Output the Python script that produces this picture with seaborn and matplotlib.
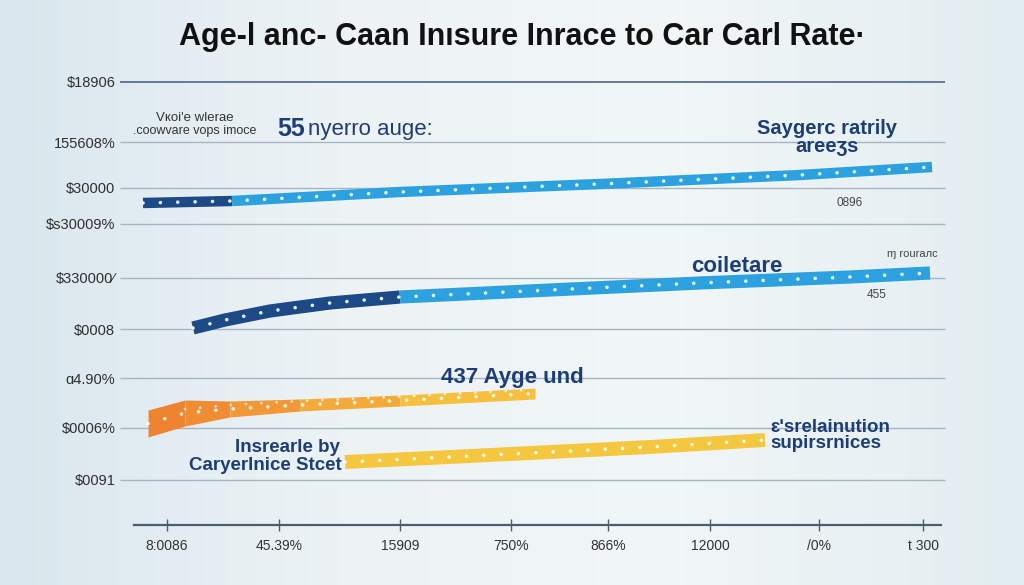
import numpy as np
import matplotlib.pyplot as plt
import seaborn as sns
from matplotlib.colors import LinearSegmentedColormap

sns.set_theme(style='white')
plt.rcParams['font.family'] = ['Liberation Sans', 'DejaVu Sans']

titulo = 'Age-l anc- Caan Inısure Inrace to Car Carl Rate·'

# eje y (lineas de la cuadricula)
y_valores = [886, 766, 674, 602, 494, 392, 294, 194, 90]
y_etiquetas = ['$18906', '155608%', '$30000', '$s30009%', '$330000⁄',
               '$0008', 'ɑ4.90%', '$0006%', '$0091']

# eje x
x_valores = [16.7, 27.9, 40.0, 51.1, 60.8, 71.0, 81.9, 92.3]
x_etiquetas = ['8:0086', '45.39%', '15909', '750%', '866%', '12000', '/0%', 't 300']

# banda superior
sup_oscuro_x = [14.3, 23.2]
sup_oscuro_y = [644, 648]
sup_claro_x = [23.2, 40, 60, 80, 93.2]
sup_claro_y = [648, 666, 682, 700, 716]

# banda media
med_oscuro_x = [19.3, 22.5, 27, 33, 40]
med_oscuro_y = [394, 410, 428, 444, 456]
med_claro_x = [40, 55, 70, 85, 93]
med_claro_y = [456, 470, 484, 496, 504]

# banda naranja (borde superior e inferior)
nar_x = [14.8, 18.5, 23, 30, 40, 53.5]
nar_sup = [230, 250, 248, 252, 260, 274]
nar_inf = [176, 198, 216, 228, 238, 252]
nar_colores = ['#ee8430', '#f08c33', '#f29836', '#f4aa39', '#f6bf3d']

# banda amarilla
ama_x = [34.5, 45, 55, 65, 76.5]
ama_y = [126, 136, 146, 156, 170]

azul_oscuro = '#1b4a86'
azul_claro = '#2ba2df'
azul_texto = '#1c3e78'

fig = plt.figure(figsize=(10.24, 5.85), dpi=100)
ax = fig.add_axes([0, 0, 1, 1])
ax.set_xlim(0, 102.4)
ax.set_ylim(-120, 1050)

# fondo degradado
fondo = LinearSegmentedColormap.from_list('fondo', ['#d9e7ee', '#edf3f5', '#f1f6f7', '#e2edf1'])
grad = np.linspace(0, 1, 256).reshape(1, -1)
ax.imshow(grad, cmap=fondo, extent=[0, 102.4, -120, 1050], aspect='auto', zorder=0)

# cuadricula
for i, v in enumerate(y_valores):
    col = '#4d6681' if i == 0 else '#a7b5c2'
    ax.hlines(v, 12.0, 94.5, color=col, linewidth=1.2 if i == 0 else 1.0, zorder=1)

# bandas azules
sns.lineplot(x=sup_oscuro_x, y=sup_oscuro_y, color=azul_oscuro, linewidth=7.5,
             solid_capstyle='butt', sort=False, ax=ax, zorder=3)
sns.lineplot(x=sup_claro_x, y=sup_claro_y, color=azul_claro, linewidth=7.5,
             solid_capstyle='butt', sort=False, ax=ax, zorder=3)
sns.lineplot(x=med_oscuro_x, y=med_oscuro_y, color=azul_oscuro, linewidth=9.5,
             solid_capstyle='butt', solid_joinstyle='round', sort=False, ax=ax, zorder=3)
sns.lineplot(x=med_claro_x, y=med_claro_y, color=azul_claro, linewidth=9.5,
             solid_capstyle='butt', sort=False, ax=ax, zorder=3)

# banda naranja con degradado
for i in range(len(nar_x) - 1):
    ax.fill_between(nar_x[i:i + 2], nar_inf[i:i + 2], nar_sup[i:i + 2],
                    color=nar_colores[i], linewidth=0, zorder=3)
nar_medio = [(a + b) / 2 for a, b in zip(nar_sup, nar_inf)]

# banda amarilla
sns.lineplot(x=ama_x, y=ama_y, color='#f5c73e', linewidth=10,
             solid_capstyle='butt', sort=False, ax=ax, zorder=3)

# puntos blancos sobre las bandas
puntos = dict(color='white', linewidth=2.6, linestyle=(0, (0.01, 4.8)),
              dash_capstyle='round', sort=False, ax=ax, zorder=4, alpha=0.9)
sns.lineplot(x=sup_oscuro_x + sup_claro_x[1:], y=sup_oscuro_y + sup_claro_y[1:], **puntos)
sns.lineplot(x=med_oscuro_x + med_claro_x[1:], y=med_oscuro_y + med_claro_y[1:], **puntos)
sns.lineplot(x=ama_x, y=ama_y, **puntos)
sns.lineplot(x=nar_x, y=nar_medio, **puntos)
sns.lineplot(x=nar_x[1:], y=[m + 8 for m in nar_medio[1:]], color='white', linewidth=2.0,
             linestyle=(0, (0.01, 5.5)), dash_capstyle='round', sort=False, ax=ax,
             zorder=4, alpha=0.75)

# ejes
for s in ['top', 'right', 'left']:
    ax.spines[s].set_visible(False)
ax.spines['bottom'].set_position(('data', 0))
ax.spines['bottom'].set_bounds(13.4, 94.1)
ax.spines['bottom'].set_color('#4a5d72')
ax.spines['bottom'].set_linewidth(1.6)
ax.spines['left'].set_position(('data', 11.8))
ax.set_xticks(x_valores)
ax.set_xticklabels(x_etiquetas)
ax.set_yticks(y_valores)
ax.set_yticklabels(y_etiquetas)
ax.tick_params(axis='x', direction='inout', length=8, width=1, color='#4a5d72',
               labelsize=10, labelcolor='#333333', pad=6, bottom=True)
ax.tick_params(axis='y', length=0, labelsize=10.5, labelcolor='#2f2f2f', pad=2, left=True)
ax.grid(False)

# titulo
fig.text(0.51, 1 - 37 / 585, titulo, ha='center', va='center', fontsize=22,
         fontweight='bold', color='#111111')

# anotaciones
ax.text(19.5, 814, 'Vкоi\'e wlerae', ha='center', va='center', fontsize=9.5, color='#333333')
ax.text(19.5, 788, '.coowvare vops imoce', ha='center', va='center', fontsize=9, color='#333333')
ax.text(27.7, 792, '55', ha='left', va='center', fontsize=18, fontweight='bold', color=azul_texto)
ax.text(30.8, 792, 'nyerro auge:', ha='left', va='center', fontsize=16, color=azul_texto)
ax.text(82.7, 794, 'Saygerc ratrily', ha='center', va='center', fontsize=14.5,
        fontweight='bold', color=azul_texto)
ax.text(82.7, 758, 'areeʒs', ha='center', va='center', fontsize=14.5,
        fontweight='bold', color=azul_texto)
ax.text(85.0, 644, '0896', ha='center', va='center', fontsize=8.5, color='#444444')
ax.text(73.7, 518, 'coiletare', ha='center', va='center', fontsize=16,
        fontweight='bold', color=azul_texto)
ax.text(91.2, 542, 'ɱ rourалc', ha='center', va='center', fontsize=8, color='#444444')
ax.text(87.7, 460, '455', ha='center', va='center', fontsize=8.5, color='#444444')
ax.text(51.2, 294, '437 Ayge und', ha='center', va='center', fontsize=16,
        fontweight='bold', color=azul_texto)
ax.text(34.0, 154, 'Insrearle by', ha='right', va='center', fontsize=13.5,
        fontweight='bold', color=azul_texto)
ax.text(34.2, 120, 'Caryerlnice Stcet', ha='right', va='center', fontsize=13.5,
        fontweight='bold', color=azul_texto)
ax.text(77.0, 194, 'ɛ\'srelainution', ha='left', va='center', fontsize=13.5,
        fontweight='bold', color=azul_texto)
ax.text(77.0, 164, 'supirsrnices', ha='left', va='center', fontsize=13.5,
        fontweight='bold', color=azul_texto)

fig.savefig('out.png', dpi=100)
